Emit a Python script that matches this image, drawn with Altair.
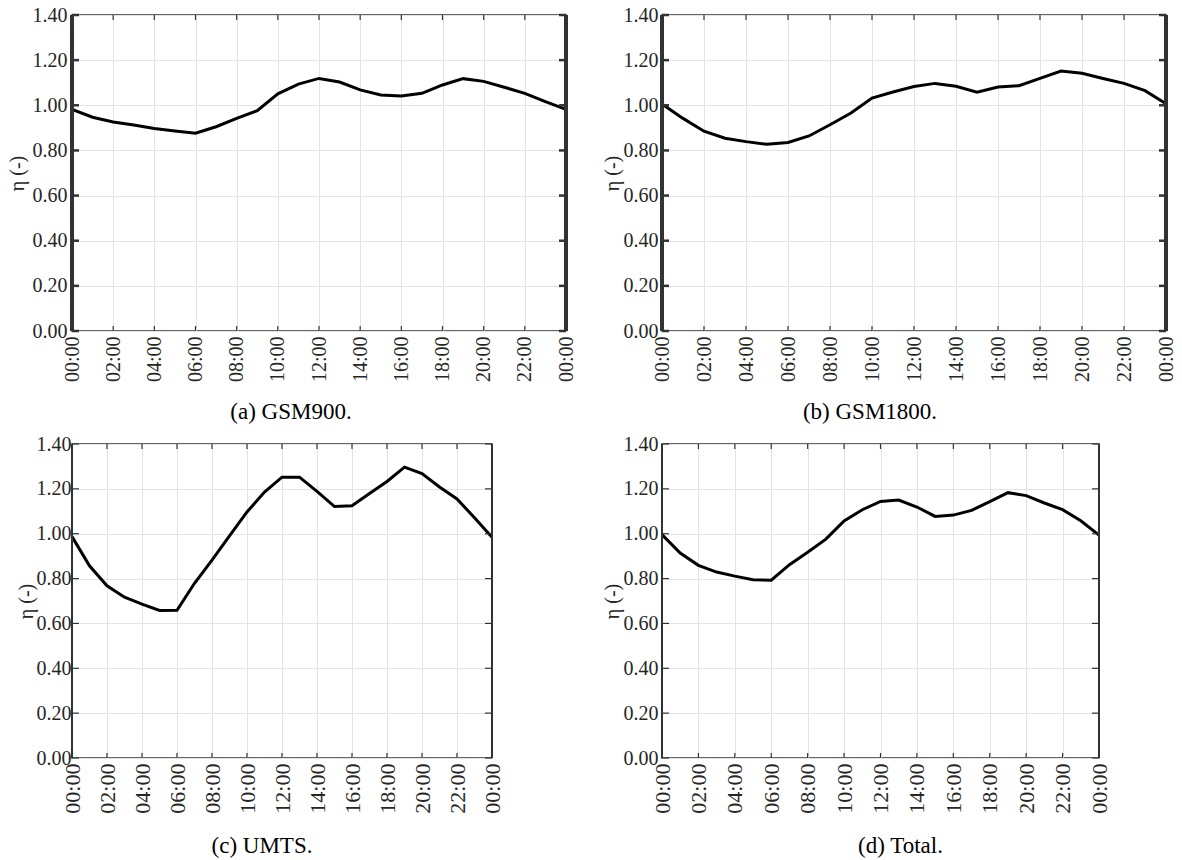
import altair as alt
import pandas as pd

hours = list(range(25))
gsm900 = [0.982, 0.947, 0.926, 0.913, 0.897, 0.886, 0.876, 0.905, 0.942, 0.976, 1.051, 1.094, 1.119,
          1.103, 1.068, 1.046, 1.041, 1.053, 1.090, 1.118, 1.106, 1.080, 1.053, 1.016, 0.982]
gsm1800 = [1.006, 0.942, 0.885, 0.854, 0.839, 0.827, 0.835, 0.864, 0.914, 0.966, 1.032, 1.059, 1.083,
           1.097, 1.084, 1.058, 1.081, 1.087, 1.119, 1.152, 1.142, 1.119, 1.097, 1.065, 1.007]
umts = [0.987, 0.857, 0.768, 0.717, 0.686, 0.658, 0.659, 0.779, 0.882, 0.990, 1.097, 1.186, 1.252,
        1.252, 1.189, 1.121, 1.125, 1.179, 1.233, 1.297, 1.268, 1.208, 1.155, 1.071, 0.984]
total = [0.996, 0.914, 0.859, 0.829, 0.811, 0.795, 0.793, 0.862, 0.917, 0.976, 1.057, 1.107, 1.144,
         1.150, 1.119, 1.077, 1.083, 1.104, 1.143, 1.183, 1.170, 1.137, 1.107, 1.058, 0.994]

x_ticks = list(range(0, 25, 2))
x_tick_labels = ["00:00", "02:00", "04:00", "06:00", "08:00", "10:00", "12:00",
                 "14:00", "16:00", "18:00", "20:00", "22:00", "00:00"]
y_ticks = [0.0, 0.2, 0.4, 0.6, 0.8, 1.0, 1.2, 1.4]
captions = ["(a) GSM900.", "(b) GSM1800.", "(c) UMTS.", "(d) Total."]
y_title = "η (-)"

SERIF = "Liberation Serif"
FRAME = "#333333"
GRID = "#e3e3e3"
LABEL = "#262626"

label_expr = "[" + ",".join("'" + t + "'" for t in x_tick_labels) + "][round(datum.value / 2)]"


def panel(values, caption, w, h, thick, label_pad, title_pad, cap_dx, cap_offset, xfont):
    df = pd.DataFrame({"hour": hours, "eta": values})
    xs = alt.Scale(domain=[0, 24], nice=False, zero=False)
    ys = alt.Scale(domain=[0, 1.4], nice=False)
    x_axis = alt.Axis(values=x_ticks, labelExpr=label_expr, labelAngle=270, title=None,
                      labelPadding=5, labelFont=SERIF, labelFontSize=xfont)
    y_axis = alt.Axis(values=y_ticks, format=".2f", title=y_title,
                      titlePadding=title_pad, labelPadding=label_pad,
                      labelFont=SERIF, labelFontSize=20, titleFont=SERIF,
                      titleFontSize=20, titleFontWeight="normal")
    X = lambda: alt.X("hour:Q", scale=xs, axis=x_axis)
    Y = lambda: alt.Y("eta:Q", scale=ys, axis=y_axis)
    side_w = 3.5 if thick else 1.5
    side_tick_w = 2.5 if thick else 1.2

    line = alt.Chart(df).mark_line(color="black", strokeWidth=3).encode(x=X(), y=Y())

    ydf = pd.DataFrame({"eta": y_ticks})
    xdf = pd.DataFrame({"hour": x_ticks})
    left_ticks = alt.Chart(ydf).mark_rule(color=FRAME, strokeWidth=side_tick_w).encode(
        y=Y(), x=alt.value(0), x2=alt.value(7))
    right_ticks = alt.Chart(ydf).mark_rule(color=FRAME, strokeWidth=side_tick_w).encode(
        y=Y(), x=alt.value(w - 7), x2=alt.value(w))
    top_ticks = alt.Chart(xdf).mark_rule(color=FRAME, strokeWidth=1.2).encode(
        x=X(), y=alt.value(0), y2=alt.value(5))
    bottom_ticks = alt.Chart(xdf).mark_rule(color=FRAME, strokeWidth=1.2).encode(
        x=X(), y=alt.value(h - 5), y2=alt.value(h))
    left_border = alt.Chart(ydf).mark_rule(color=FRAME, strokeWidth=side_w).encode(
        x=alt.value(0), y=alt.value(0), y2=alt.value(h))
    right_border = alt.Chart(ydf).mark_rule(color=FRAME, strokeWidth=side_w).encode(
        x=alt.value(w), y=alt.value(0), y2=alt.value(h))

    return alt.layer(line, left_ticks, right_ticks, top_ticks, bottom_ticks,
                     left_border, right_border).properties(
        width=w, height=h,
        title=alt.TitleParams(caption, orient="bottom", anchor="middle", frame="group",
                              font=SERIF, fontSize=23, fontWeight="normal",
                              color="black", offset=cap_offset, dx=cap_dx))


a = panel(gsm900, captions[0], 494, 316, True, 5, 5, -28, 19, 20)
b = panel(gsm1800, captions[1], 504, 316, True, 4, 1, -44, 19, 20)
c = panel(umts, captions[2], 420, 314, False, 1, 0, -20, 22, 22)
d = panel(total, captions[3], 437, 314, False, 4, 1, 20, 22, 22)

row1 = alt.hconcat(a, b, spacing=96, bounds="flush")
row2 = alt.hconcat(c, d, spacing=170, bounds="flush")

chart = alt.vconcat(row1, row2, spacing=8).properties(
    padding={"left": 6, "top": 4, "right": 0, "bottom": 0},
    background="white"
).configure(
    font=SERIF
).configure_view(
    stroke=FRAME, strokeWidth=1.5
).configure_axis(
    grid=True, gridColor=GRID, gridWidth=1, tickSize=0, domain=False,
    labelFont=SERIF, labelFontSize=20, labelColor=LABEL,
    labelFlush=False, labelOverlap=False,
    titleFont=SERIF, titleFontSize=20, titleFontWeight="normal", titleColor=LABEL
)

chart.save("out.html", embed_options={"renderer": "svg", "actions": False})
